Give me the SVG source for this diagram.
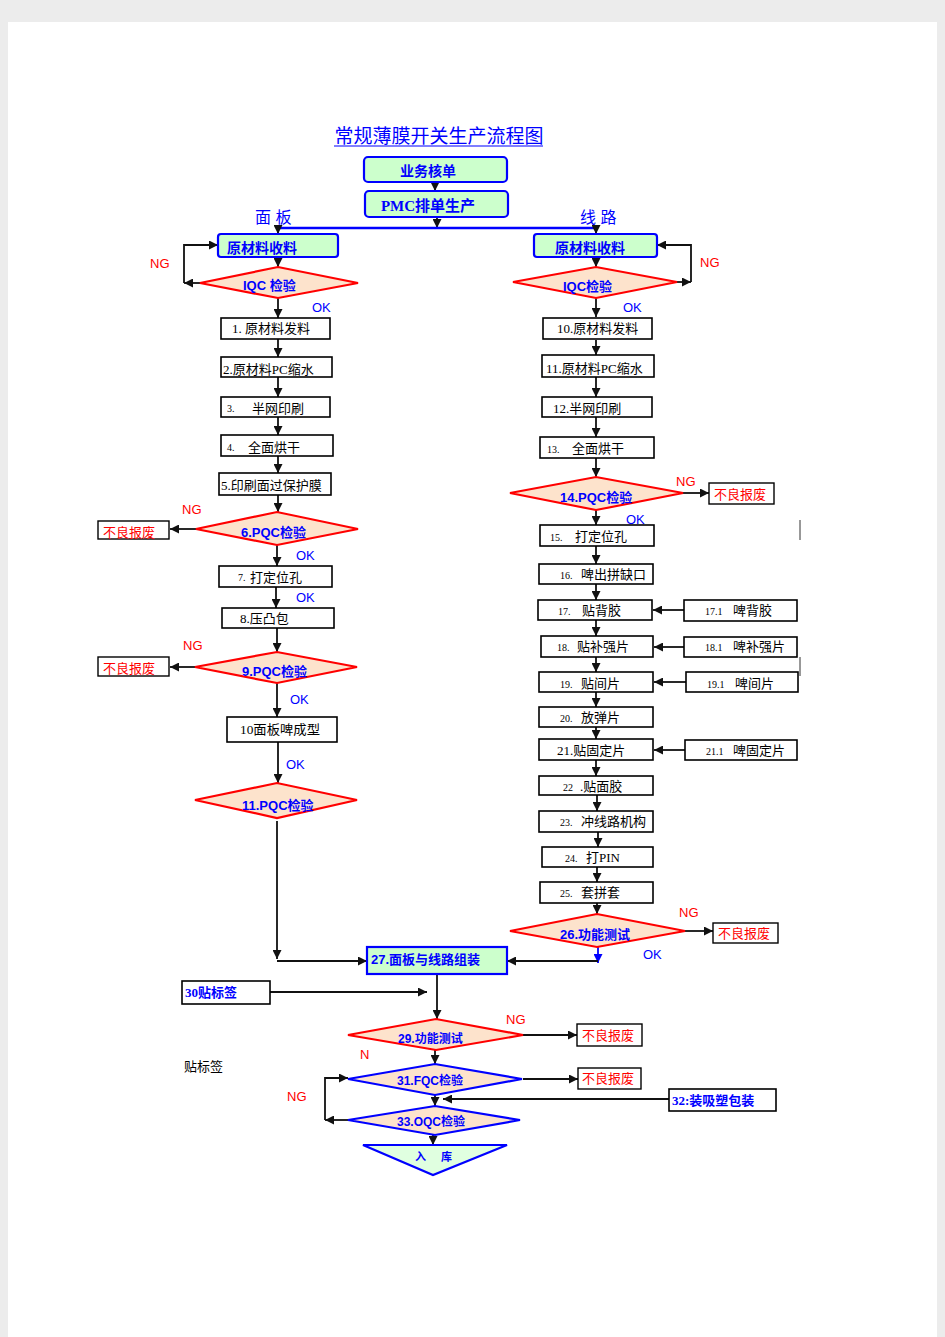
<svg xmlns="http://www.w3.org/2000/svg" width="945" height="1337" viewBox="0 0 945 1337">
<defs>
<marker id="a" viewBox="0 0 10 10" refX="10" refY="5" markerWidth="9" markerHeight="9" markerUnits="userSpaceOnUse" orient="auto"><path d="M0,0 L10,5 L0,10 z" fill="#111"/></marker>
<marker id="ab" viewBox="0 0 10 10" refX="10" refY="5" markerWidth="9" markerHeight="9" markerUnits="userSpaceOnUse" orient="auto"><path d="M0,0 L10,5 L0,10 z" fill="#0000ff"/></marker>
<style>
.box{fill:#fff;stroke:#000;stroke-width:1.6}
.gbox{fill:#ccffcc;stroke:#0000ff;stroke-width:2.2}
.dia{fill:#fde3cc;stroke:#ff0000;stroke-width:2.2}
.bdia{fill:#fde3cc;stroke:#0000ff;stroke-width:2.2}
.rbox{fill:#fff;stroke:#000;stroke-width:1.4}
.t{font-family:"Liberation Serif","Noto Sans CJK SC",serif;font-size:13px;fill:#000}
.n{font-family:"Liberation Serif",serif;font-size:10px;fill:#000}
.bl{font-family:"Liberation Sans","Noto Sans CJK SC",sans-serif;font-size:13px;font-weight:bold;fill:#0000ff}
.bs{font-family:"Liberation Serif","Noto Sans CJK SC",serif;font-size:14px;font-weight:bold;fill:#0000ff}
.ok{font-family:"Liberation Sans",sans-serif;font-size:13px;fill:#0000ff}
.ng{font-family:"Liberation Sans",sans-serif;font-size:13px;fill:#ff0000}
.rj{font-family:"Liberation Serif","Noto Sans CJK SC",serif;font-size:13px;fill:#ff0000}
.c{fill:none;stroke:#111;stroke-width:1.8}
</style>
</defs>
<rect x="0" y="0" width="945" height="1337" fill="#ececec"/>
<rect x="8" y="22" width="929" height="1315" fill="#fff"/>

<g id="title">
<text x="439" y="143" text-anchor="middle" style="font-family:'Liberation Serif','Noto Sans CJK SC',serif;font-size:19px;fill:#0000ff">常规薄膜开关生产流程图</text>
<line x1="334" y1="146" x2="543" y2="146" stroke="#0000ff" stroke-width="1.2"/>
</g>

<g id="connectors">
<line class="c" x1="435" y1="182" x2="435" y2="191" marker-end="url(#a)"/>
<line class="c" x1="437" y1="217" x2="437" y2="228" marker-end="url(#a)"/>
<line x1="278" y1="228" x2="596" y2="228" stroke="#0000ff" stroke-width="2.5"/>
<line class="c" x1="278" y1="228" x2="278" y2="234" marker-end="url(#a)"/>
<line class="c" x1="596" y1="228" x2="596" y2="234" marker-end="url(#a)"/>
<line class="c" x1="278" y1="257" x2="278" y2="267" marker-end="url(#a)"/>
<line class="c" x1="596" y1="257" x2="596" y2="267" marker-end="url(#a)"/>
<path class="c" d="M200,283 H184" marker-end="url(#a)"/>
<path class="c" d="M184,283 V245 H218" marker-end="url(#a)"/>
<path class="c" d="M677,282 H691" marker-end="url(#a)"/>
<path class="c" d="M691,282 V245 H657" marker-end="url(#a)"/>
<line class="c" x1="278" y1="298" x2="278" y2="318" marker-end="url(#a)"/>
<line class="c" x1="278" y1="339" x2="278" y2="357" marker-end="url(#a)"/>
<line class="c" x1="278" y1="377" x2="278" y2="397" marker-end="url(#a)"/>
<line class="c" x1="278" y1="417" x2="278" y2="435" marker-end="url(#a)"/>
<line class="c" x1="278" y1="456" x2="278" y2="473" marker-end="url(#a)"/>
<line class="c" x1="278" y1="495" x2="278" y2="512" marker-end="url(#a)"/>
<line class="c" x1="196" y1="529" x2="170" y2="529" marker-end="url(#a)"/>
<line class="c" x1="277" y1="545" x2="277" y2="566" marker-end="url(#a)"/>
<line class="c" x1="276" y1="587" x2="276" y2="608" marker-end="url(#a)"/>
<line class="c" x1="277" y1="628" x2="277" y2="652" marker-end="url(#a)"/>
<line class="c" x1="195" y1="667" x2="170" y2="667" marker-end="url(#a)"/>
<line class="c" x1="277" y1="683" x2="277" y2="717" marker-end="url(#a)"/>
<line class="c" x1="278" y1="742" x2="278" y2="783" marker-end="url(#a)"/>
<line class="c" x1="277" y1="821" x2="277" y2="959" marker-end="url(#a)"/>
<line class="c" x1="277" y1="961" x2="367" y2="961" marker-end="url(#a)"/>
<line class="c" x1="596" y1="298" x2="596" y2="317" marker-end="url(#a)"/>
<line class="c" x1="596" y1="340" x2="596" y2="355" marker-end="url(#a)"/>
<line class="c" x1="596" y1="377" x2="596" y2="397" marker-end="url(#a)"/>
<line class="c" x1="596" y1="417" x2="596" y2="437" marker-end="url(#a)"/>
<line class="c" x1="596" y1="458" x2="596" y2="477" marker-end="url(#a)"/>
<line class="c" x1="683" y1="493" x2="709" y2="493" marker-end="url(#a)"/>
<line class="c" x1="596" y1="510" x2="596" y2="525" marker-end="url(#a)"/>
<line class="c" x1="596" y1="546" x2="596" y2="564" marker-end="url(#a)"/>
<line class="c" x1="596" y1="584" x2="596" y2="600" marker-end="url(#a)"/>
<line class="c" x1="596" y1="620" x2="596" y2="636" marker-end="url(#a)"/>
<line class="c" x1="596" y1="657" x2="596" y2="672" marker-end="url(#a)"/>
<line class="c" x1="596" y1="692" x2="596" y2="707" marker-end="url(#a)"/>
<line class="c" x1="596" y1="727" x2="596" y2="739" marker-end="url(#a)"/>
<line class="c" x1="596" y1="760" x2="596" y2="776" marker-end="url(#a)"/>
<line class="c" x1="597" y1="795" x2="597" y2="811" marker-end="url(#a)"/>
<line class="c" x1="598" y1="832" x2="598" y2="847" marker-end="url(#a)"/>
<line class="c" x1="597" y1="867" x2="597" y2="882" marker-end="url(#a)"/>
<line class="c" x1="597" y1="903" x2="597" y2="914" marker-end="url(#a)"/>
<line class="c" x1="684" y1="610" x2="653" y2="610" marker-end="url(#a)"/>
<line class="c" x1="684" y1="647" x2="654" y2="647" marker-end="url(#a)"/>
<line class="c" x1="686" y1="682" x2="654" y2="682" marker-end="url(#a)"/>
<line class="c" x1="685" y1="750" x2="654" y2="750" marker-end="url(#a)"/>
<line class="c" x1="685" y1="931" x2="713" y2="931" marker-end="url(#a)"/>
<line x1="598" y1="947" x2="598" y2="963" stroke="#0000ff" stroke-width="1.8" marker-end="url(#ab)"/>
<line class="c" x1="598" y1="961" x2="507" y2="961" marker-end="url(#a)"/>
<line class="c" x1="270" y1="992" x2="427" y2="992" marker-end="url(#a)"/>
<line class="c" x1="437" y1="974" x2="437" y2="1019" marker-end="url(#a)"/>
<line class="c" x1="523" y1="1035" x2="577" y2="1035" marker-end="url(#a)"/>
<line class="c" x1="435" y1="1050" x2="435" y2="1064" marker-end="url(#a)"/>
<line class="c" x1="523" y1="1079" x2="578" y2="1079" marker-end="url(#a)"/>
<line class="c" x1="669" y1="1099" x2="443" y2="1099" marker-end="url(#a)"/>
<line class="c" x1="435" y1="1095" x2="435" y2="1106" marker-end="url(#a)"/>
<path class="c" d="M348,1120 H325" marker-end="url(#a)"/>
<path class="c" d="M325,1120 V1078 H348" marker-end="url(#a)"/>
<line class="c" x1="433" y1="1135" x2="433" y2="1145" marker-end="url(#a)"/>
<line x1="800" y1="520" x2="800" y2="540" stroke="#333" stroke-width="1"/>
<line x1="800" y1="657" x2="800" y2="676" stroke="#333" stroke-width="1"/>
</g>

<g id="n-order"><rect class="gbox" x="364" y="157" width="143" height="25" rx="4"/><text class="bs" x="428" y="176" text-anchor="middle">业务核单</text></g>
<g id="n-pmc"><rect class="gbox" x="365" y="191" width="143" height="26" rx="4"/><text class="bs" x="428" y="211" text-anchor="middle" style="font-size:15px">PMC排单生产</text></g>
<g id="l-panel"><text x="255" y="223" style="font-family:'Liberation Sans','Noto Sans CJK SC',sans-serif;font-size:16px;fill:#0000ff">面 板</text></g>
<g id="l-circuit"><text x="580" y="223" style="font-family:'Liberation Sans','Noto Sans CJK SC',sans-serif;font-size:16px;fill:#0000ff">线 路</text></g>

<g id="n-recv-l"><rect class="gbox" x="218" y="234" width="120" height="23" rx="3"/><text class="bl" x="227" y="253" style="font-size:14px">原材料收料</text></g>
<g id="n-recv-r"><rect class="gbox" x="534" y="234" width="123" height="23" rx="3"/><text class="bl" x="555" y="253" style="font-size:14px">原材料收料</text></g>
<g id="n-iqc-l"><polygon class="dia" points="200,283 278,267 358,283 278,298"/><text class="bl" x="243" y="290">IQC 检验</text></g>
<g id="n-iqc-r"><polygon class="dia" points="513,282 596,267 677,282 596,298"/><text class="bl" x="563" y="291">IQC检验</text></g>
<g id="lbl-top"><text class="ng" x="150" y="268">NG</text><text class="ng" x="700" y="267">NG</text><text class="ok" x="312" y="312">OK</text><text class="ok" x="623" y="312">OK</text></g>

<g id="n1"><rect class="box" x="221" y="318" width="109" height="21"/><text class="t" x="232" y="333">1. 原材料发料</text></g>
<g id="n2"><rect class="box" x="221" y="357" width="111" height="20"/><text class="t" x="223" y="374">2.原材料PC缩水</text></g>
<g id="n3"><rect class="box" x="221" y="397" width="109" height="20"/><text class="n" x="227" y="412">3.</text><text class="t" x="252" y="413">半网印刷</text></g>
<g id="n4"><rect class="box" x="221" y="435" width="112" height="21"/><text class="n" x="227" y="451">4.</text><text class="t" x="248" y="452">全面烘干</text></g>
<g id="n5"><rect class="box" x="219" y="473" width="112" height="22"/><text class="t" x="221" y="490">5.印刷面过保护膜</text></g>
<g id="n6"><polygon class="dia" points="196,529 277,512 358,529 277,545"/><text class="bl" x="241" y="537">6.PQC检验</text></g>
<g id="r6"><rect class="rbox" x="98" y="521" width="71" height="18"/><text class="rj" x="103" y="537">不良报废</text></g>
<g id="l6"><text class="ng" x="182" y="514">NG</text><text class="ok" x="296" y="560">OK</text></g>
<g id="n7"><rect class="box" x="219" y="566" width="113" height="21"/><text class="n" x="238" y="581">7.</text><text class="t" x="250" y="582">打定位孔</text></g>
<g id="l7"><text class="ok" x="296" y="602">OK</text></g>
<g id="n8"><rect class="box" x="222" y="608" width="112" height="20"/><text class="t" x="240" y="623">8.压凸包</text></g>
<g id="n9"><polygon class="dia" points="195,667 277,652 357,667 277,683"/><text class="bl" x="242" y="676">9.PQC检验</text></g>
<g id="r9"><rect class="rbox" x="98" y="657" width="71" height="19"/><text class="rj" x="103" y="673">不良报废</text></g>
<g id="l9"><text class="ng" x="183" y="650">NG</text><text class="ok" x="290" y="704">OK</text></g>
<g id="n10"><rect class="box" x="227" y="717" width="110" height="25"/><text class="t" x="240" y="734" textLength="80" lengthAdjust="spacingAndGlyphs">10面板啤成型</text></g>
<g id="l10"><text class="ok" x="286" y="769">OK</text></g>
<g id="n11"><polygon class="dia" points="195,800 277,783 357,800 277,818"/><text class="bl" x="242" y="810">11.PQC检验</text></g>

<g id="m10"><rect class="box" x="543" y="318" width="109" height="21"/><text class="t" x="557" y="333">10.原材料发料</text></g>
<g id="m11"><rect class="box" x="542" y="355" width="112" height="22"/><text class="t" x="546" y="373">11.原材料PC缩水</text></g>
<g id="m12"><rect class="box" x="542" y="397" width="110" height="20"/><text class="t" x="553" y="413">12.半网印刷</text></g>
<g id="m13"><rect class="box" x="540" y="437" width="114" height="21"/><text class="n" x="547" y="453">13.</text><text class="t" x="572" y="453">全面烘干</text></g>
<g id="m14"><polygon class="dia" points="510,493 596,477 683,493 596,510"/><text class="bl" x="560" y="502">14.PQC检验</text></g>
<g id="r14"><rect class="rbox" x="709" y="483" width="65" height="21"/><text class="rj" x="714" y="499">不良报废</text></g>
<g id="l14"><text class="ng" x="676" y="486">NG</text><text class="ok" x="626" y="524">OK</text></g>
<g id="m15"><rect class="box" x="540" y="525" width="114" height="21"/><text class="n" x="550" y="541">15.</text><text class="t" x="575" y="541">打定位孔</text></g>
<g id="m16"><rect class="box" x="539" y="564" width="114" height="20"/><text class="n" x="560" y="579">16.</text><text class="t" x="581" y="579">啤出拼缺口</text></g>
<g id="m17"><rect class="box" x="538" y="600" width="114" height="20"/><text class="n" x="558" y="615">17.</text><text class="t" x="582" y="615">贴背胶</text></g>
<g id="m171"><rect class="box" x="684" y="600" width="113" height="21"/><text class="n" x="705" y="615">17.1</text><text class="t" x="733" y="615">啤背胶</text></g>
<g id="m18"><rect class="box" x="541" y="636" width="112" height="21"/><text class="n" x="557" y="651">18.</text><text class="t" x="577" y="651">贴补强片</text></g>
<g id="m181"><rect class="box" x="684" y="637" width="113" height="20"/><text class="n" x="705" y="651">18.1</text><text class="t" x="733" y="651">啤补强片</text></g>
<g id="m19"><rect class="box" x="539" y="672" width="114" height="20"/><text class="n" x="560" y="688">19.</text><text class="t" x="581" y="688">贴间片</text></g>
<g id="m191"><rect class="box" x="686" y="672" width="112" height="20"/><text class="n" x="707" y="688">19.1</text><text class="t" x="735" y="688">啤间片</text></g>
<g id="m20"><rect class="box" x="539" y="707" width="114" height="20"/><text class="n" x="560" y="722">20.</text><text class="t" x="581" y="722">放弹片</text></g>
<g id="m21"><rect class="box" x="539" y="739" width="114" height="21"/><text class="t" x="557" y="755">21.贴固定片</text></g>
<g id="m211"><rect class="box" x="685" y="740" width="112" height="20"/><text class="n" x="706" y="755">21.1</text><text class="t" x="733" y="755">啤固定片</text></g>
<g id="m22"><rect class="box" x="539" y="776" width="114" height="19"/><text class="n" x="563" y="791">22</text><text class="t" x="580" y="791">.贴面胶</text></g>
<g id="m23"><rect class="box" x="539" y="811" width="114" height="21"/><text class="n" x="560" y="826">23.</text><text class="t" x="581" y="826">冲线路机构</text></g>
<g id="m24"><rect class="box" x="542" y="847" width="111" height="20"/><text class="n" x="565" y="862">24.</text><text class="t" x="586" y="862">打PIN</text></g>
<g id="m25"><rect class="box" x="540" y="882" width="113" height="21"/><text class="n" x="560" y="897">25.</text><text class="t" x="581" y="897">套拼套</text></g>
<g id="m26"><polygon class="dia" points="510,931 597,914 685,931 597,947"/><text class="bl" x="560" y="939">26.功能测试</text></g>
<g id="r26"><rect class="rbox" x="713" y="923" width="65" height="20"/><text class="rj" x="718" y="938">不良报废</text></g>
<g id="l26"><text class="ng" x="679" y="917">NG</text><text class="ok" x="643" y="959">OK</text></g>

<g id="n27"><rect x="367" y="947" width="140" height="27" fill="#ccffcc" stroke="#0000ff" stroke-width="2.2"/><text class="bl" x="371" y="964">27.面板与线路组装</text></g>
<g id="n30"><rect class="box" x="182" y="981" width="88" height="23"/><text class="bs" x="185" y="997" style="font-size:13px">30贴标签</text></g>
<g id="n29"><polygon class="dia" points="348,1035 436,1019 523,1035 436,1050"/><text class="bl" x="398" y="1043" style="font-size:12px">29.功能测试</text></g>
<g id="r29"><rect class="rbox" x="577" y="1024" width="65" height="22"/><text class="rj" x="582" y="1040">不良报废</text></g>
<g id="l29"><text class="ng" x="506" y="1024">NG</text><text class="ng" x="360" y="1059">N</text></g>
<g id="lbl-label"><text class="t" x="184" y="1071">贴标签</text></g>
<g id="n31"><polygon class="bdia" points="348,1079 435,1064 522,1079 435,1095"/><text class="bl" x="397" y="1085" style="font-size:12px">31.FQC检验</text></g>
<g id="r31"><rect class="rbox" x="578" y="1068" width="63" height="21"/><text class="rj" x="582" y="1083">不良报废</text></g>
<g id="n32"><rect class="box" x="669" y="1089" width="107" height="22"/><text class="bs" x="672" y="1105" style="font-size:13px">32:装吸塑包装</text></g>
<g id="l33"><text class="ng" x="287" y="1101">NG</text></g>
<g id="n33"><polygon class="bdia" points="348,1120 435,1106 520,1120 435,1135"/><text class="bl" x="397" y="1126" style="font-size:12px">33.OQC检验</text></g>
<g id="n-store"><polygon points="363,1145 507,1145 433,1175" fill="#e0ffe0" stroke="#0000ff" stroke-width="2.2"/><text class="bl" x="415" y="1161" style="font-size:11px;word-spacing:12px">入 库</text></g>
</svg>
